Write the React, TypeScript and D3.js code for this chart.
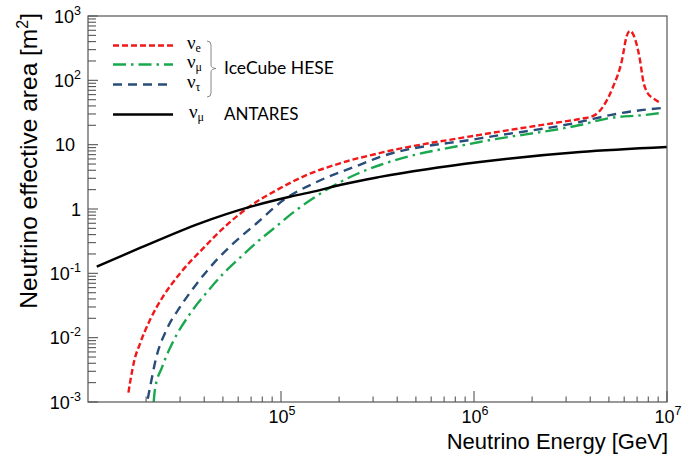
import React from "react";
import * as d3 from "d3";

// ---------- data ----------
// nu_e IceCube HESE
const nueEnergy = [1.62e4, 1.66e4, 1.74e4, 1.86e4, 2.09e4, 2.45e4, 3.0e4, 3.95e4, 5.22e4, 6.9e4, 9.5e4, 1.36e5, 2.02e5, 3.31e5, 1.07e6, 2.79e6, 3.55e6, 4.17e6, 4.66e6, 5.25e6, 5.85e6, 6.17e6, 6.43e6, 6.76e6, 7.24e6, 7.52e6, 7.94e6, 8.51e6, 9.2e6];
const nueArea = [1.4e-3, 2.2e-3, 4.5e-3, 8.1e-3, 0.0186, 0.0437, 0.1, 0.245, 0.56, 1.1, 1.97, 3.38, 5.13, 7.5, 14.2, 22.4, 25.1, 28.2, 38.9, 79, 209, 479, 589, 479, 209, 100, 63, 52.5, 44.7];

// nu_mu IceCube HESE
const numuEnergy = [2.19e4, 2.22e4, 2.42e4, 2.75e4, 3.37e4, 4.14e4, 5.0e4, 6.14e4, 7.52e4, 9.1e4, 1.21e5, 1.65e5, 2.47e5, 3.26e5, 1.07e6, 3.54e6, 5.07e6, 7.52e6, 9.2e6];
const numuArea = [1.0e-3, 1.53e-3, 3.49e-3, 8.5e-3, 0.0233, 0.0512, 0.0975, 0.176, 0.307, 0.489, 0.98, 1.84, 3.5, 4.83, 11.0, 20.2, 26.0, 28.8, 30.9];

// nu_tau IceCube HESE
const nutauEnergy = [2.04e4, 2.09e4, 2.26e4, 2.55e4, 3.0e4, 3.66e4, 4.47e4, 5.66e4, 7.48e4, 1.03e5, 1.53e5, 2.47e5, 3.26e5, 1.07e6, 3.54e6, 5.07e6, 7.52e6, 9.42e6];
const nutauArea = [1.12e-3, 1.62e-3, 5.0e-3, 0.0132, 0.03, 0.069, 0.143, 0.292, 0.6, 1.38, 2.63, 4.67, 6.44, 12.5, 22.5, 28.8, 34.7, 37.2];

// nu_mu ANTARES
const antEnergy = [1.11e4, 1.86e4, 3.8e4, 6.9e4, 1.11e5, 1.59e5, 2.02e5, 3.26e5, 1.07e6, 3.54e6, 1.0e7];
const antArea = [0.127, 0.248, 0.6, 1.08, 1.55, 1.97, 2.36, 3.15, 5.38, 7.69, 9.2];

const yTickExp = [3, 2, 1, 0, -1, -2, -3];
const xTickExp = [5, 6, 7];

// ---------- layout ----------
const W = 687;
const H = 460;
const L = 88, R = 667, T = 16, B = 402;

const x = d3.scaleLog().domain([1e4, 1e7]).range([L, R]);
const y = d3.scaleLog().domain([1e-3, 1e3]).range([B, T]);

const FRAME = "#555";

function mkLine(es: number[], as: number[]) {
  const pts = es.map((e, i) => [x(e), y(as[i])] as [number, number]);
  return d3.line().curve(d3.curveMonotoneX)(pts) || "";
}

const series = [
  { e: nueEnergy, a: nueArea, color: "#f01818", dash: "6,3", w: 2.4 },
  { e: numuEnergy, a: numuArea, color: "#1aa84e", dash: "13,5,2.5,5", w: 2.4 },
  { e: nutauEnergy, a: nutauArea, color: "#284d78", dash: "9,6", w: 2.4 },
  { e: antEnergy, a: antArea, color: "#000", dash: "", w: 2.4 },
];

export default function App() {
  const xMinor: number[] = [];
  for (let n = 4; n <= 6; n++) for (let k = 2; k <= 9; k++) xMinor.push(k * Math.pow(10, n));
  const yMinor: number[] = [];
  for (let n = -3; n <= 2; n++) for (let k = 2; k <= 9; k++) yMinor.push(k * Math.pow(10, n));

  const sans = "'Liberation Sans', Arial, sans-serif";
  const serif = "'Liberation Serif', 'Times New Roman', serif";
  const leg = "Lato, 'Open Sans', sans-serif";

  const legendRows = [
    { yy: 45.5, color: "#f01818", dash: "6,3", sub: "e" },
    { yy: 64.5, color: "#1aa84e", dash: "13,5,2.5,5", sub: "\u03bc" },
    { yy: 84.5, color: "#284d78", dash: "9,6", sub: "\u03c4" },
    { yy: 114.5, color: "#000", dash: "", sub: "\u03bc" },
  ];

  return (
    <svg width={W} height={H} style={{ position: "absolute", left: 0, top: 0, background: "#fff" }}>
      <defs>
        <clipPath id="plotclip">
          <rect x={L} y={T} width={R - L} height={B - T} />
        </clipPath>
      </defs>
      <rect x={0} y={0} width={W} height={H} fill="#fff" />

      {/* curves */}
      <g clipPath="url(#plotclip)" fill="none">
        {series.map((s, i) => (
          <path key={i} d={mkLine(s.e, s.a)} stroke={s.color} strokeWidth={s.w} strokeDasharray={s.dash || undefined} />
        ))}
      </g>

      {/* frame */}
      <rect x={L} y={T} width={R - L} height={B - T} fill="none" stroke={FRAME} strokeWidth={1.2} />

      {/* x ticks */}
      <g stroke={FRAME} strokeWidth={1.1}>
        {xMinor.map((v, i) => (
          <line key={"xm" + i} x1={x(v)} x2={x(v)} y1={B} y2={B - 5.5} />
        ))}
        {xTickExp.map((p) => (
          <line key={"xM" + p} x1={x(Math.pow(10, p))} x2={x(Math.pow(10, p))} y1={B} y2={B - 11} />
        ))}
      </g>
      {/* y ticks */}
      <g stroke={FRAME} strokeWidth={1.1}>
        {yMinor.map((v, i) => (
          <line key={"ym" + i} x1={L} x2={L + 8} y1={y(v)} y2={y(v)} />
        ))}
        {yTickExp.map((p) => (
          <line key={"yM" + p} x1={L} x2={L + 10} y1={y(Math.pow(10, p))} y2={y(Math.pow(10, p))} />
        ))}
      </g>

      {/* x tick labels */}
      <g fontFamily={sans} fontSize={18} fill="#000">
        {xTickExp.map((p) => (
          <text key={"xl" + p} x={x(Math.pow(10, p)) + 1} y={423} textAnchor="middle">
            10<tspan dy={-8} fontSize={12.5}>{p}</tspan>
          </text>
        ))}
      </g>

      {/* y tick labels */}
      <g fontFamily={sans} fontSize={18} fill="#000">
        {yTickExp.map((p) => {
          const yy = y(Math.pow(10, p)) + 6.5;
          if (p === 1)
            return (
              <text key={"yl" + p} x={75} y={yy} textAnchor="end">10</text>
            );
          if (p === 0)
            return (
              <text key={"yl" + p} x={81} y={yy} textAnchor="end">1</text>
            );
          return (
            <text key={"yl" + p} x={81} y={yy} textAnchor="end">
              10<tspan dy={-8} fontSize={12.5}>{p}</tspan>
            </text>
          );
        })}
      </g>

      {/* axis titles */}
      <text x={668} y={449} textAnchor="end" fontFamily={sans} fontSize={22} fill="#000">
        Neutrino Energy [GeV]
      </text>
      <text transform="translate(37,13) rotate(-90)" textAnchor="end" fontFamily={sans} fontSize={24.5} fill="#000">
        Neutrino effective area [m<tspan dy={-9} fontSize={16}>2</tspan><tspan dy={9}>]</tspan>
      </text>

      {/* legend */}
      {legendRows.map((r, i) => (
        <g key={"lg" + i}>
          <line x1={113} x2={173} y1={r.yy} y2={r.yy} stroke={r.color} strokeWidth={2.6} strokeDasharray={r.dash || undefined} />
          <text x={i === 3 ? 189 : 187} y={r.yy + 3} fontFamily={serif} fontSize={19} fill="#000">
            {"\u03bd"}
            <tspan dy={3.5} fontSize={12}>{r.sub}</tspan>
          </text>
        </g>
      ))}
      <path d="M207,41 Q211,41 211,45 L211,65 Q211,68 216,68.5 Q211,69 211,72 L211,93 Q211,97 207,97" fill="none" stroke="#888" strokeWidth={1} />
      <text x={224} y={74} fontFamily={leg} fontSize={17.5} fill="#000">IceCube HESE</text>
      <text x={224} y={120} fontFamily={leg} fontSize={17} fill="#000">ANTARES</text>
    </svg>
  );
}
